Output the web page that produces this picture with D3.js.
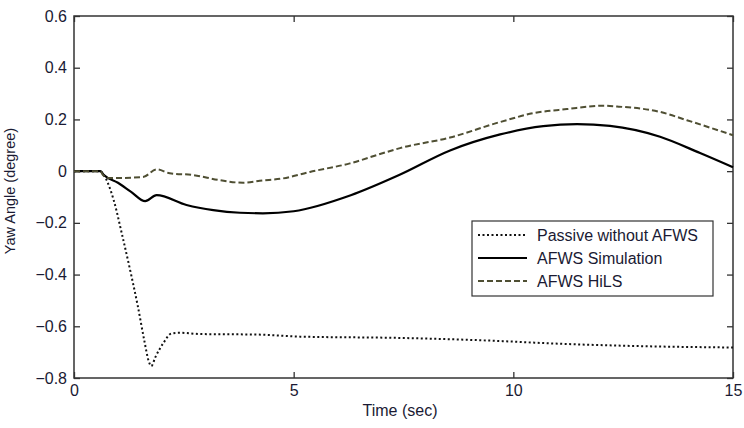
<!DOCTYPE html>
<html>
<head>
<meta charset="utf-8">
<script src="https://cdn.jsdelivr.net/npm/d3@7"></script>
<style>
  body { margin: 0; background: #fff; }
  text { font-family: "Liberation Sans", Arial, sans-serif; }
</style>
</head>
<body>
<div id="vis"></div>
<script>
// data (time in sec, yaw angle in degree)
const passiveT = [0, 0.6, 0.68, 0.9, 1.1, 1.3, 1.45, 1.6, 1.7, 1.76, 1.85, 2.03, 2.22, 2.41, 2.87, 4.16, 5.14, 7.4, 9.7, 10.83, 12.95, 15];
const passiveY = [0, 0, -0.015, -0.11, -0.25, -0.4, -0.52, -0.655, -0.735, -0.754, -0.72, -0.666, -0.628, -0.625, -0.63, -0.632, -0.64, -0.645, -0.657, -0.666, -0.677, -0.682];

const simT = [0, 0.6, 0.68, 1.0, 1.3, 1.62, 1.88, 2.56, 3.17, 3.78, 4.3, 5, 6.3, 7.4, 8.56, 9.7, 10.68, 11.45, 12.2, 13.34, 14.25, 15];
const simY = [0, 0, -0.015, -0.045, -0.08, -0.116, -0.093, -0.131, -0.151, -0.161, -0.163, -0.155, -0.093, -0.015, 0.08, 0.142, 0.174, 0.182, 0.175, 0.133, 0.07, 0.015];

const hilsT = [0, 0.6, 0.66, 0.8, 1.57, 1.88, 2.18, 2.71, 3.32, 3.85, 4.23, 4.76, 5.37, 6.28, 7.04, 7.42, 8.56, 9.7, 10.45, 11.22, 12.05, 12.36, 13.34, 13.95, 15];
const hilsY = [0, 0, -0.015, -0.027, -0.023, 0.007, -0.008, -0.015, -0.035, -0.045, -0.037, -0.028, -0.003, 0.03, 0.07, 0.089, 0.13, 0.19, 0.224, 0.24, 0.253, 0.25, 0.229, 0.197, 0.139];

const xTicks = [0, 5, 10, 15];
const yTicks = [-0.8, -0.6, -0.4, -0.2, 0, 0.2, 0.4, 0.6];
const seriesNames = ["Passive without AFWS", "AFWS Simulation", "AFWS HiLS"];

const width = 744, height = 428;
const margin = {top: 16, right: 11, bottom: 50, left: 74};
const innerW = width - margin.left - margin.right;
const innerH = height - margin.top - margin.bottom;

const svg = d3.select('#vis').append('svg')
  .attr('width', width)
  .attr('height', height);

const g = svg.append('g')
  .attr('transform', 'translate(' + margin.left + ',' + margin.top + ')');

const xScale = d3.scaleLinear().domain([0, 15]).range([0, innerW]);
const yScale = d3.scaleLinear().domain([-0.8, 0.6]).range([innerH, 0]);

const axisColor = '#333';
const labelColor = '#1a1a33';
const fontSize = '16px';

// ticks, inward on all four sides (matlab box)
const yFmt = d => d === 0 ? '0' : d3.format('.1f')(d);

g.append('g').call(d3.axisLeft(yScale).tickValues(yTicks).tickSizeInner(-6).tickSizeOuter(0).tickPadding(7).tickFormat(yFmt));
g.append('g').attr('transform', 'translate(' + innerW + ',0)')
  .call(d3.axisRight(yScale).tickValues(yTicks).tickSizeInner(-6).tickSizeOuter(0).tickFormat(''));
g.append('g').attr('transform', 'translate(0,' + innerH + ')')
  .call(d3.axisBottom(xScale).tickValues(xTicks).tickSizeInner(-6).tickSizeOuter(0).tickPadding(7));
g.append('g')
  .call(d3.axisTop(xScale).tickValues(xTicks).tickSizeInner(-6).tickSizeOuter(0).tickFormat(''));

g.selectAll('.domain').remove();
g.selectAll('.tick line').attr('stroke', axisColor).attr('stroke-width', 1.3);
g.selectAll('.tick text').attr('fill', labelColor).style('font-size', fontSize);

g.append('rect')
  .attr('width', innerW).attr('height', innerH)
  .attr('fill', 'none').attr('stroke', axisColor).attr('stroke-width', 1.5);

// lines
const line = d3.line()
  .x(d => xScale(d[0]))
  .y(d => yScale(d[1]))
  .curve(d3.curveMonotoneX);

const styles = [
  {color: '#111', dash: '2,2.5', width: 2},
  {color: '#000', dash: null, width: 2.2},
  {color: '#4f4f33', dash: '6,3', width: 2}
];
const series = [
  d3.zip(passiveT, passiveY),
  d3.zip(simT, simY),
  d3.zip(hilsT, hilsY)
];

series.forEach((s, i) => {
  g.append('path')
    .attr('d', line(s))
    .attr('fill', 'none')
    .attr('stroke', styles[i].color)
    .attr('stroke-width', styles[i].width)
    .attr('stroke-dasharray', styles[i].dash);
});

// legend
const lg = g.append('g').attr('transform', 'translate(' + (472 - margin.left) + ',' + (221 - margin.top) + ')');
lg.append('rect')
  .attr('width', 241).attr('height', 75)
  .attr('fill', '#fff').attr('stroke', '#333').attr('stroke-width', 1.2);
seriesNames.forEach((name, i) => {
  const yy = 14 + i * 23;
  lg.append('line')
    .attr('x1', 6).attr('x2', 55).attr('y1', yy).attr('y2', yy)
    .attr('stroke', styles[i].color)
    .attr('stroke-width', styles[i].width)
    .attr('stroke-dasharray', styles[i].dash);
  lg.append('text')
    .attr('x', 65).attr('y', yy + 6)
    .attr('fill', labelColor)
    .style('font-size', fontSize)
    .text(name);
});

// axis titles
svg.append('text')
  .attr('x', 400).attr('y', 416)
  .attr('text-anchor', 'middle')
  .attr('fill', labelColor)
  .style('font-size', fontSize)
  .text('Time (sec)');

svg.append('text')
  .attr('transform', 'translate(15,191) rotate(-90)')
  .attr('text-anchor', 'middle')
  .attr('fill', labelColor)
  .style('font-size', '14.5px')
  .text('Yaw Angle (degree)');
</script>
</body>
</html>
